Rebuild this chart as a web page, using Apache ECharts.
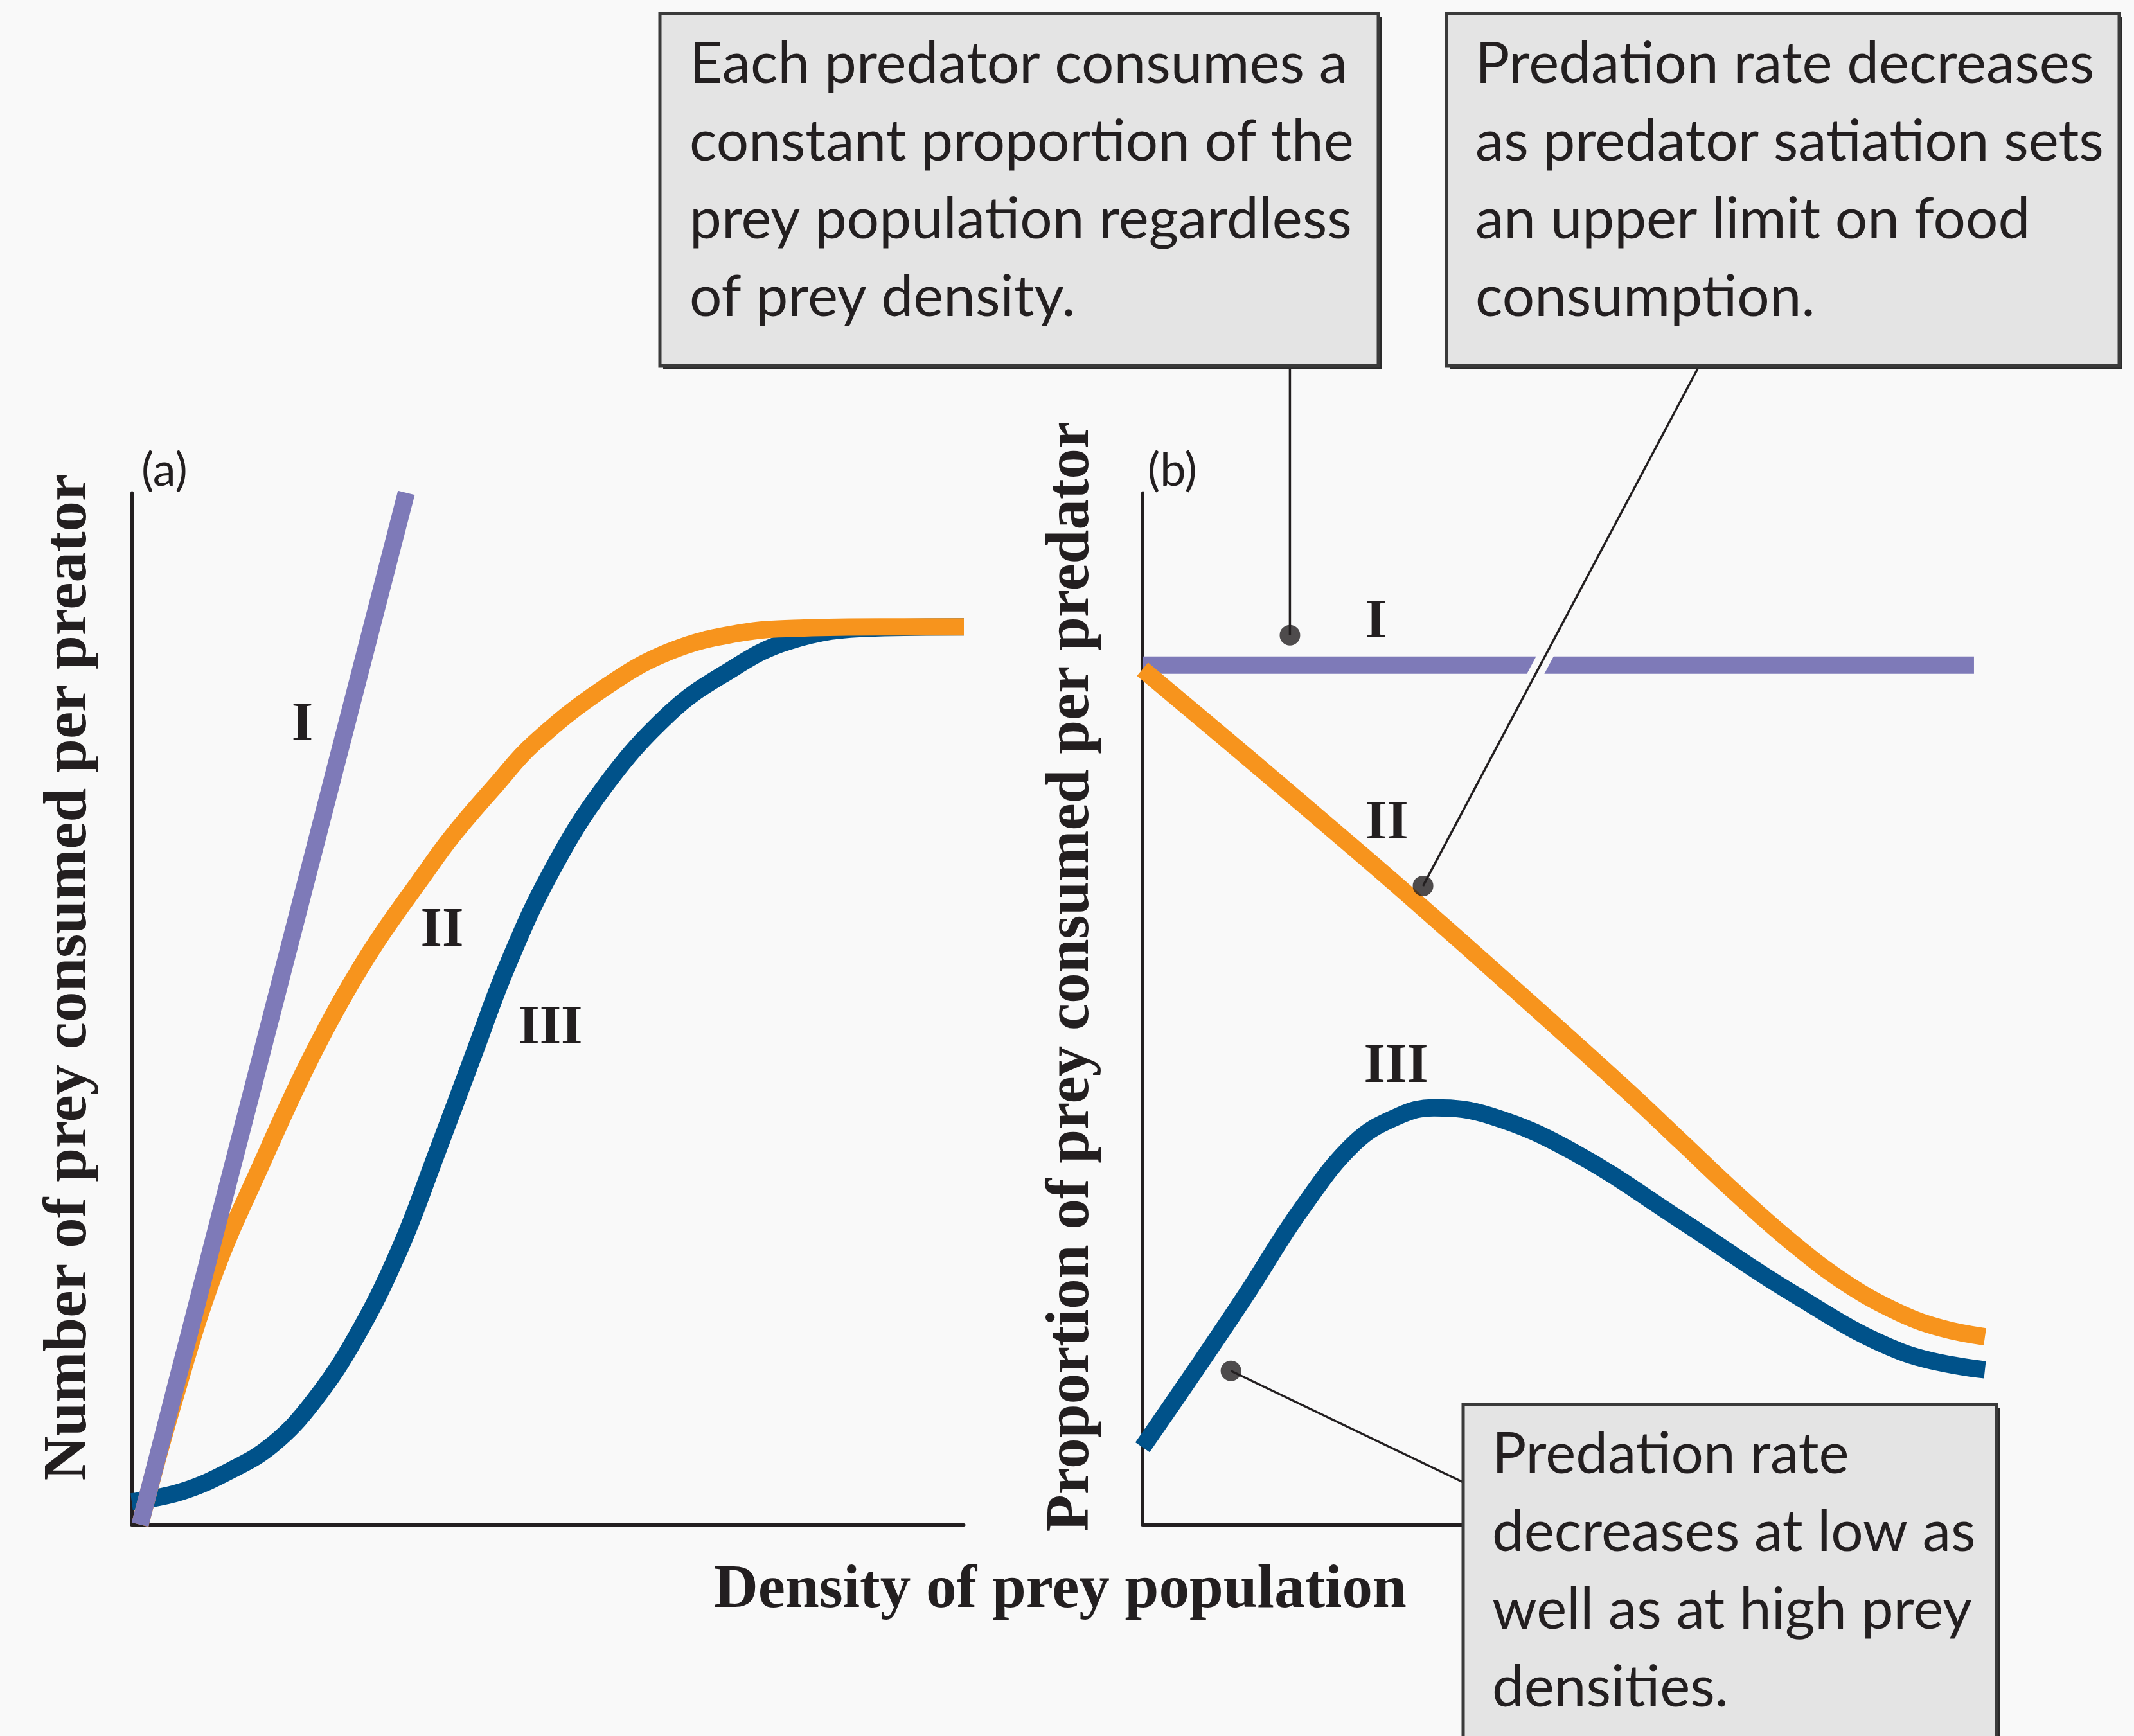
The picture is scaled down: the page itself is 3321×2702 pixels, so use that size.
<!DOCTYPE html>
<html>
<head>
<meta charset="utf-8">
<title>Predator functional responses</title>
<script src="https://cdn.jsdelivr.net/npm/echarts@6/dist/echarts.min.js"></script>
<style>
  html, body { margin: 0; padding: 0; background: #f9f9f9; }
  #chart { width: 3321px; height: 2702px; }
</style>
</head>
<body>
<div id="chart"></div>
<script>
// values: x = prey density (0-100), y = 0-100 of the axis height

// (a) number of prey consumed per predator
const typeI_a = [[1, 0], [33, 100]];
const typeII_a = [[1, 0], [5, 11.8], [10, 24.5], [15.8, 35.3], [20.4, 43.4], [24.5, 49.8], [28.9, 55.8],
  [34.7, 62.5], [38.6, 66.8], [43.8, 71.7], [48.3, 75.7], [56.8, 81.1], [64.6, 84.6], [73, 86.4],
  [80.8, 86.9], [90, 87], [100, 87]];
const typeIII_a = [[0, 2.2], [6, 3.2], [12, 5.3], [17, 7.8], [21.8, 11.9], [26.9, 18.1], [32.1, 26.5],
  [36.7, 36.1], [41.2, 45.8], [45.1, 54.1], [50.3, 63.1], [56.8, 71.5], [64.6, 78.6], [71.1, 82.4],
  [78.9, 85.6], [89.3, 86.9], [100, 87]];

// (b) proportion of prey consumed per predator
const typeI_b = [[0, 83.3], [98.7, 83.3]];
const typeII_b = [[0, 82.9], [12.4, 74.4], [25.2, 65.5], [31.7, 60.9], [44.7, 51.5], [57.6, 42.0],
  [64.1, 37.0], [70.6, 32.0], [77, 27.4], [83.5, 23.4], [89.9, 20.5], [95, 19.0], [100, 18.2]];
const typeIII_b = [[0, 7.5], [5.9, 14.5], [12.4, 22.4], [18.8, 30.5], [25.2, 37.0], [30.4, 39.6],
  [34.6, 40.4], [41.4, 39.6], [51.2, 36.1], [64.1, 29.4], [77, 22.5], [89.9, 16.8], [100, 15.0]];

// callout dots in panel (b)
const calloutDots = [[17.5, 86.2], [33.3, 61.9], [10.5, 14.9]];

// curve labels [text, x, y]
const labelsA = [["I", 20.5, 77.4], ["II", 37.3, 57.5], ["III", 50.3, 48.0]];
const labelsB = [["I", 27.7, 87.4], ["II", 29.0, 67.9], ["III", 30.1, 44.3]];

const notes = [
  "Each predator consumes a\nconstant proportion of the\nprey population regardless\nof prey density.",
  "Predation rate decreases\nas predator satiation sets\nan upper limit on food\nconsumption.",
  "Predation rate\ndecreases at low as\nwell as at high prey\ndensities."
];

const PURPLE = "#7e7ab8";
const ORANGE = "#f7941d";
const BLUE = "#00528a";
const INK = "#231f20";
const BG = "#f9f9f9";

const chart = echarts.init(document.getElementById("chart"));

const axis = (gridIndex) => ({
  type: "value",
  gridIndex,
  min: 0,
  max: 100,
  axisLine: { show: true, onZero: false, lineStyle: { color: INK, width: 5 } },
  axisTick: { show: false },
  axisLabel: { show: false },
  splitLine: { show: false },
});

const curve = (name, data, color, gi) => ({
  name,
  type: "line",
  xAxisIndex: gi,
  yAxisIndex: gi,
  data,
  smooth: 0.4,
  showSymbol: false,
  symbol: "none",
  silent: true,
  lineStyle: { color, width: 27, cap: "butt" },
});

const option = {
  backgroundColor: BG,
  animation: false,
  grid: [
    { left: 205, top: 767, width: 1295, height: 1606 },
    { left: 1778, top: 767, width: 1311, height: 1606 },
  ],
  xAxis: [axis(0), axis(1)],
  yAxis: [axis(0), axis(1)],
  series: [
    curve("III", typeIII_a, BLUE, 0),
    curve("II", typeII_a, ORANGE, 0),
    curve("I", typeI_a, PURPLE, 0),
    curve("I", typeI_b, PURPLE, 1),
    curve("III", typeIII_b, BLUE, 1),
    curve("II", typeII_b, ORANGE, 1),
    {
      type: "scatter",
      xAxisIndex: 1,
      yAxisIndex: 1,
      data: calloutDots,
      symbolSize: 32,
      silent: true,
      itemStyle: { color: INK },
      z: 5,
    },
  ],
};

chart.setOption(option);

const toPx = (gi, p) => chart.convertToPixel({ gridIndex: gi }, p);

const serif = 'bold 95px "Liberation Serif", "Times New Roman", serif';
const numeral = 'bold 86px "Liberation Serif", "Times New Roman", serif';
const sans = '89px Lato, "Open Sans", sans-serif';

const graphics = [];

const addText = (text, x, y, font, extra) => {
  graphics.push(Object.assign({
    type: "text",
    x,
    y,
    z: 100,
    silent: true,
    style: { text, font, fill: INK, textAlign: "center", textVerticalAlign: "middle" },
  }, extra || {}));
};

labelsA.forEach(([t, x, y]) => {
  const p = toPx(0, [x, y]);
  addText(t, p[0], p[1], numeral);
});
labelsB.forEach(([t, x, y]) => {
  const p = toPx(1, [x, y]);
  addText(t, p[0], p[1], numeral);
});

// axis titles
addText("Number of prey consumed per preator", 108, 1521, serif, { rotation: Math.PI / 2 });
addText("Proportion of prey consumed per predator", 1668, 1520, serif, { rotation: Math.PI / 2 });
addText("Density of prey population", 1650, 2476, serif);

// panel letters
const panelFont = '72px Lato, "Open Sans", sans-serif';
graphics.push({ type: "text", x: 220, y: 733, z: 100, style: { text: "(a)", font: panelFont, fill: INK, textVerticalAlign: "middle" } });
graphics.push({ type: "text", x: 1786, y: 733, z: 100, style: { text: "(b)", font: panelFont, fill: INK, textVerticalAlign: "middle" } });

// leader lines
const dot1 = toPx(1, calloutDots[0]);
const dot2 = toPx(1, calloutDots[1]);
const dot3 = toPx(1, calloutDots[2]);
const leader = (a, b, color, width) => ({
  type: "line",
  z: 90,
  silent: true,
  shape: { x1: a[0], y1: a[1], x2: b[0], y2: b[1] },
  style: { stroke: color, lineWidth: width },
});

const start2 = [2643, 572];
const purpleY = toPx(1, typeI_b[0])[1];
const along = (y) => start2[0] + (y - start2[1]) / (dot2[1] - start2[1]) * (dot2[0] - start2[0]);
graphics.push(leader([along(purpleY - 24), purpleY - 24], [along(purpleY + 24), purpleY + 24], BG, 24));
graphics.push(leader([dot1[0], 572], dot1, INK, 3.5));
graphics.push(leader(start2, dot2, INK, 3.5));
graphics.push(leader([2277, 2307], dot3, INK, 3.5));

// note boxes
const box = (x, y, w, h, text, tx, ty) => {
  graphics.push({
    type: "rect", z: 110, silent: true,
    shape: { x: x + 5, y: y + 5, width: w, height: h },
    style: { fill: "#2a2a2a" },
  });
  graphics.push({
    type: "rect", z: 111, silent: true,
    shape: { x, y, width: w, height: h },
    style: { fill: "#e4e4e4", stroke: "#3a3a3a", lineWidth: 5 },
  });
  graphics.push({
    type: "text", x: tx, y: ty, z: 112, silent: true,
    style: { text, font: sans, fill: INK, lineHeight: 121, textAlign: "left", textVerticalAlign: "top" },
  });
};
box(1027, 21, 1118, 548, notes[0], 1073, 40);
box(2251, 21, 1047, 548, notes[1], 2296, 40);
box(2277, 2186, 830, 600, notes[2], 2322, 2204);

chart.setOption({ graphic: graphics });
window.addEventListener("resize", () => chart.resize());
</script>
</body>
</html>
